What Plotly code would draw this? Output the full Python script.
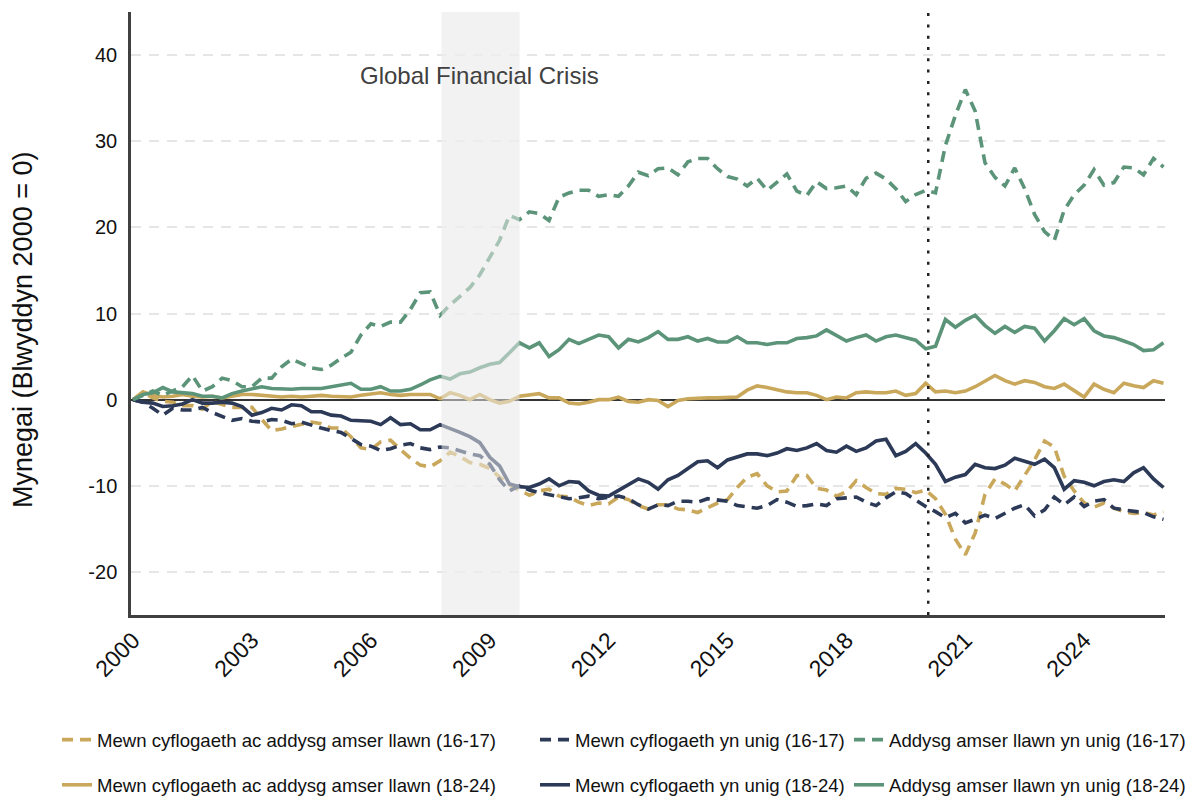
import pandas as pd
import plotly.graph_objects as go

# Quarterly observations, 2000 Q1 .. 2026 Q1 (index, 2000 = 0)
dates = pd.date_range("2000-01-01", periods=105, freq="QS")

gold_16_17 = [0, 0.8, 0.2, -0.2, -0.3, -0.7, -0.7, -1.1, -0.2, -0.6,
              -0.9, -0.9, -0.9, -2.3, -3.6, -3.4, -3.1, -2.8, -2.6, -2.8,
              -3.3, -3.3, -4.3, -5.6, -5.8, -4.9, -4.7, -5.8, -6.8, -7.6,
              -7.8, -7.1, -6.1, -6.6, -7.3, -7.5, -8.0, -9.0, -9.9, -10.5,
              -11.1, -10.6, -10.4, -11.2, -11.3, -11.9, -12.3, -12.0, -12.1, -11.3,
              -11.6, -12.3, -12.7, -12.2, -12.2, -12.7, -12.8, -13.1, -12.5, -12.0,
              -11.6, -10.2, -9.0, -8.6, -10.0, -10.7, -10.6, -8.8, -8.8, -10.3,
              -10.5, -11.2, -10.7, -9.4, -10.2, -10.9, -11.0, -10.3, -10.4, -10.8,
              -10.5, -11.5, -13.3, -16.2, -18.0, -15.5, -11.0, -9.2, -9.8, -10.6,
              -8.8, -7.0, -4.8, -5.5, -8.9, -10.6, -12.0, -12.5, -12.0, -12.6,
              -13.0, -13.2, -13.1, -13.4, -13.0]

gold_18_24 = [0, 0.9, 0.5, 0.3, 0.4, 0.6, 0.4, 0.3, 0.4, 0.2,
              0.4, 0.6, 0.6, 0.5, 0.3, 0.3, 0.4, 0.3, 0.4, 0.5,
              0.4, 0.4, 0.3, 0.5, 0.7, 0.8, 0.6, 0.5, 0.6, 0.6,
              0.6, 0.1, 0.8, 0.5, 0.0, 0.6, 0.0, -0.4, -0.2, 0.4,
              0.5, 0.7, 0.2, 0.2, -0.4, -0.5, -0.3, 0.0, 0.0, 0.3,
              -0.2, -0.3, 0.0, -0.1, -0.8, -0.1, 0.1, 0.2, 0.2, 0.2,
              0.2, 0.3, 1.1, 1.6, 1.4, 1.1, 0.9, 0.8, 0.8, 0.5,
              0.0, 0.3, 0.2, 0.8, 0.9, 0.8, 0.8, 1.0, 0.5, 0.7,
              1.9, 0.9, 1.0, 0.8, 1.0, 1.5, 2.2, 2.8, 2.2, 1.8,
              2.2, 2.0, 1.5, 1.3, 1.8, 1.0, 0.3, 1.8, 1.2, 0.8,
              1.9, 1.6, 1.4, 2.2, 1.9]

navy_16_17 = [0, -0.3, -1.0, -1.8, -1.0, -1.2, -1.2, -0.9, -1.5, -2.0,
              -2.4, -2.2, -2.5, -2.6, -2.3, -2.4, -2.8, -2.6, -3.0, -3.3,
              -3.6, -3.8, -4.5, -5.2, -5.4, -5.9, -5.7, -5.3, -5.1, -5.6,
              -5.8, -5.5, -5.6, -6.0, -6.3, -6.5, -7.5, -9.3, -10.6, -10.0,
              -10.5, -10.8, -11.0, -11.3, -11.5, -11.4, -11.2, -11.5, -11.3, -11.2,
              -11.5, -12.2, -12.7, -12.2, -12.3, -11.8, -11.8, -11.9, -11.5, -11.6,
              -11.8, -12.3, -12.4, -12.6, -12.3, -11.6, -11.9, -12.4, -12.3, -12.1,
              -12.3, -11.5, -11.4, -11.3, -11.9, -12.3, -11.4, -10.7, -10.9, -11.7,
              -12.4, -13.0, -13.7, -13.2, -14.3, -13.9, -13.4, -13.8, -13.2, -12.6,
              -12.2, -13.5, -12.8, -11.3, -12.2, -11.3, -12.4, -11.8, -11.6, -12.6,
              -12.8, -12.9, -13.1, -13.6, -13.9]

navy_18_24 = [0, -0.3, -0.4, -0.8, -0.7, -0.5, 0.0, -0.4, -0.4, -0.3,
              -0.4, -0.8, -1.8, -1.5, -1.0, -1.2, -0.6, -0.7, -1.4, -1.4,
              -1.8, -1.9, -2.4, -2.5, -2.5, -2.9, -2.1, -2.9, -2.8, -3.5,
              -3.5, -2.9, -3.3, -3.8, -4.3, -5.0, -6.7, -7.7, -9.8, -10.1,
              -10.2, -9.8, -9.2, -10.0, -9.5, -9.6, -10.6, -11.1, -11.2, -10.5,
              -9.9, -9.2, -9.6, -10.4, -9.3, -8.8, -8.0, -7.2, -7.1, -7.9,
              -7.0, -6.6, -6.3, -6.3, -6.5, -6.2, -5.7, -5.9, -5.6, -5.1,
              -5.9, -6.1, -5.4, -6.0, -5.6, -4.8, -4.6, -6.5, -6.0, -5.1,
              -6.2, -7.5, -9.5, -9.0, -8.7, -7.5, -7.9, -8.0, -7.6, -6.8,
              -7.2, -7.5, -6.9, -7.9, -10.4, -9.4, -9.6, -10.0, -9.5, -9.3,
              -9.5, -8.5, -7.9, -9.2, -10.2]

green_16_17 = [0, 0.5, 1.0, 0.5, 1.0, 1.5, 2.8, 1.0, 1.5, 2.5,
               2.2, 1.5, 1.5, 2.5, 2.5, 3.8, 4.7, 4.2, 3.7, 3.5,
               4.0, 4.8, 5.5, 7.5, 8.8, 8.5, 9.0, 9.0, 10.5, 12.4,
               12.5, 9.8, 11.0, 12.0, 13.0, 14.5, 16.5, 18.5, 21.4, 20.9,
               21.8, 21.6, 20.8, 23.5, 24.0, 24.3, 24.3, 23.6, 23.8, 23.6,
               24.8, 26.4, 26.0, 26.8, 26.9, 26.1, 27.6, 28.0, 28.0, 26.8,
               25.9, 25.6, 24.8, 25.7, 24.3, 25.3, 26.2, 24.2, 23.7, 25.3,
               24.5, 24.6, 24.8, 23.8, 25.7, 26.3, 25.6, 24.5, 23.0, 23.8,
               24.3, 24.0, 29.5, 33.0, 36.0, 33.5, 27.5, 25.8, 24.8, 26.9,
               24.5, 21.5, 19.5, 18.5, 22.0, 23.8, 24.9, 26.7, 24.9, 25.2,
               27.0, 26.9, 26.1, 28.0, 27.0]

green_18_24 = [0, 0.6, 0.8, 1.4, 0.9, 0.8, 0.7, 0.4, 0.4, 0.2,
               0.7, 1.0, 1.2, 1.5, 1.3, 1.2, 1.2, 1.3, 1.3, 1.3,
               1.5, 1.7, 1.9, 1.2, 1.2, 1.5, 1.0, 1.0, 1.2, 1.7,
               2.3, 2.7, 2.4, 3.0, 3.2, 3.7, 4.1, 4.3, 5.5, 6.6,
               6.0, 6.6, 5.0, 5.8, 7.0, 6.5, 7.0, 7.5, 7.3, 6.0,
               7.0, 6.7, 7.2, 7.9, 7.0, 7.0, 7.3, 6.8, 7.1, 6.7,
               6.7, 7.3, 6.6, 6.6, 6.4, 6.6, 6.6, 7.1, 7.2, 7.4,
               8.1, 7.5, 6.8, 7.2, 7.5, 6.8, 7.3, 7.5, 7.2, 6.9,
               5.9, 6.2, 9.3, 8.4, 9.2, 9.8, 8.6, 7.7, 8.5, 7.8,
               8.5, 8.3, 6.8, 8.0, 9.4, 8.7, 9.4, 8.0, 7.4, 7.2,
               6.8, 6.4, 5.7, 5.8, 6.6]

names = {
    "gold16": "Mewn cyflogaeth ac addysg amser llawn (16-17)",
    "gold18": "Mewn cyflogaeth ac addysg amser llawn (18-24)",
    "navy16": "Mewn cyflogaeth yn unig (16-17)",
    "navy18": "Mewn cyflogaeth yn unig (18-24)",
    "green16": "Addysg amser llawn yn unig (16-17)",
    "green18": "Addysg amser llawn yn unig (18-24)",
}

tick_years = ["2000", "2003", "2006", "2009", "2012", "2015", "2018", "2021", "2024"]
y_ticks = [-20, -10, 0, 10, 20, 30, 40]

GOLD = "#C9A85C"
NAVY = "#2C3A58"
GREEN = "#5B9479"
DASH = "11px,7px"

series = [
    ("gold16", gold_16_17, GOLD, DASH, "legend"),
    ("gold18", gold_18_24, GOLD, "solid", "legend"),
    ("navy16", navy_16_17, NAVY, DASH, "legend2"),
    ("navy18", navy_18_24, NAVY, "solid", "legend2"),
    ("green16", green_16_17, GREEN, DASH, "legend3"),
    ("green18", green_18_24, GREEN, "solid", "legend3"),
]

fig = go.Figure()
for key, vals, col, dash, leg in series:
    fig.add_trace(go.Scatter(
        x=dates, y=vals, mode="lines", name=names[key],
        line=dict(color=col, width=3.6, dash=dash),
        legend=leg, legendgroup=key,
    ))

FONT = "Liberation Sans, Arial, sans-serif"
ytick_font = dict(family=FONT, size=20, color="#111111")
xtick_font = dict(family=FONT, size=23, color="#111111")

# The page adds an 8px body margin, so the figure is drawn 8px smaller
W, H = 1188, 791
L, R, T, B = 123, 31, 4, 184
PW, PH = W - L - R, H - T - B

legend_common = dict(yref="container", y=1 - 713 / H, xanchor="left", yanchor="top",
                     font=dict(size=18.6, family=FONT, color="#111111"),
                     tracegroupgap=18, bgcolor="rgba(0,0,0,0)")

fig.update_layout(
    width=W, height=H,
    margin=dict(l=L, r=R, t=T, b=B, autoexpand=False),
    plot_bgcolor="white", paper_bgcolor="white",
    font=dict(family=FONT, color="#111111"),
    xaxis=dict(
        type="date", range=["1999-12-13", "2026-01-15"], automargin=False,
        tickvals=[f"{y}-01-01" for y in tick_years], ticktext=tick_years,
        tickangle=-45, tickfont=xtick_font, showgrid=False, zeroline=False,
        showline=True, linecolor="#404040", linewidth=2.5, ticks="",
    ),
    yaxis=dict(
        range=[-25, 45], tickvals=y_ticks, ticktext=[str(v) for v in y_ticks],
        automargin=False,
        tickfont=ytick_font, showgrid=True, gridcolor="#E6E6E6", gridwidth=2,
        griddash="10px,8px", zeroline=True, zerolinecolor="#333333", zerolinewidth=2,
        showline=True, linecolor="#404040", linewidth=2.5, ticks="",
        ticklabelstandoff=7,
    ),
    legend=dict(x=49 / W, xref="container", **legend_common),
    legend2=dict(x=527 / W, xref="container", **legend_common),
    legend3=dict(x=841 / W, xref="container", **legend_common),
    shapes=[
        dict(type="rect", xref="x", yref="paper", x0="2007-10-15", x1="2009-10-01",
             y0=0, y1=1, fillcolor="#F2F2F2", line=dict(width=0), layer="below"),
        dict(type="rect", xref="x", yref="paper", x0="2007-10-15", x1="2009-10-01",
             y0=0, y1=1, fillcolor="rgba(242,242,242,0.5)", line=dict(width=0), layer="above"),
        dict(type="line", xref="x", yref="paper", x0="2020-01-25", x1="2020-01-25",
             y0=0, y1=1, line=dict(color="#222222", width=2.5, dash="3px,8.3px"), layer="above"),
    ],
    annotations=[
        dict(x="2008-10-01", y=37.6, xref="x", yref="y", text="Global Financial Crisis",
             showarrow=False, font=dict(size=24, color="#404040", family=FONT)),
        dict(x=(15 - L) / PW, y=(T + PH - 322) / PH, xref="paper", yref="paper",
             text="Mynegai (Blwyddyn 2000 = 0)", textangle=-90, showarrow=False,
             xanchor="center", yanchor="middle",
             font=dict(size=27, color="#111111", family=FONT)),
    ],
)

fig.write_html("out.html")
